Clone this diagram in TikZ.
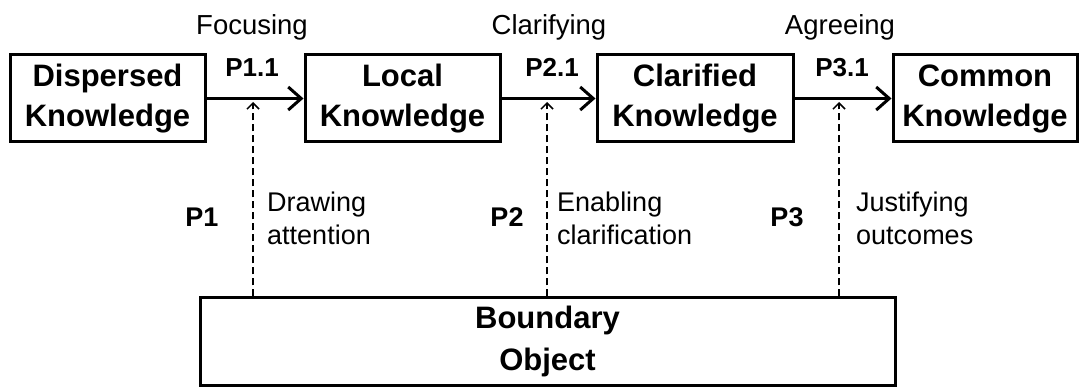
\documentclass[tikz,border=0pt]{standalone}
\usepackage{fontspec}
\setmainfont{Liberation Sans}
\usetikzlibrary{arrows.meta}
\begin{document}
\begin{tikzpicture}[x=1pt,y=-1pt,
  kbox/.style={draw, line width=3pt, minimum height=87pt, inner sep=0pt, align=center,
    font=\bfseries\fontsize{31}{40}\selectfont},
  flow/.style={line width=3pt, -{Straight Barb[length=13pt,width=23pt,line width=3pt]}},
  support/.style={line width=2pt, dash pattern=on 7pt off 4pt, -{Straight Barb[length=6pt,width=12pt,line width=1.5pt]}},
  plabel/.style={font=\bfseries\fontsize{26}{30}\selectfont, inner sep=0pt, anchor=base},
  toplabel/.style={font=\fontsize{27.5}{32}\selectfont, inner sep=0pt, anchor=base},
  plow/.style={font=\bfseries\fontsize{27}{30}\selectfont, inner sep=0pt, anchor=base},
  desc/.style={font=\fontsize{27}{33}\selectfont, align=left, anchor=north west, inner sep=0pt},
  bobj/.style={draw, line width=3pt, minimum width=695pt, minimum height=87pt, inner sep=0pt, align=center,
    font=\bfseries\fontsize{31}{42}\selectfont}
]
\useasboundingbox (0,0) rectangle (1079,387);

\node[kbox, minimum width=195pt] (d) at (107.5,98.5) {Dispersed\\Knowledge};
\node[kbox, minimum width=195pt] (l) at (402.5,98.5) {Local\\Knowledge};
\node[kbox, minimum width=196pt] (c) at (695,98.5) {Clarified\\Knowledge};
\node[kbox, minimum width=184pt] (k) at (985,98.5) {Common\\Knowledge};

\node[bobj] (b) at (547.5,341.5) {Boundary\\Object};

\draw[flow] (d) -- (l);
\draw[flow] (l) -- (c);
\draw[flow] (c) -- (k);

\coordinate (t1) at (253,102);
\coordinate (t2) at (547,102);
\coordinate (t3) at (839,102);
\draw[support] (b.north -| t1) -- (t1);
\draw[support] (b.north -| t2) -- (t2);
\draw[support] (b.north -| t3) -- (t3);

\node[toplabel] (f1) at (252,35) {Focusing};
\node[toplabel] (f2) at (549,35) {Clarifying};
\node[toplabel] (f3) at (840,35) {Agreeing};

\node[plabel] (p11) at (252,77) {P1.1};
\node[plabel] (p21) at (552,77) {P2.1};
\node[plabel] (p31) at (842,77) {P3.1};

\node[plow] (p1) at (202,227) {P1};
\node[plow] (p2) at (507,227) {P2};
\node[plow] (p3) at (787,227) {P3};

\node[desc] (e1) at (267,191.5) {Drawing\\attention};
\node[desc] (e2) at (557,191.5) {Enabling\\clarification};
\node[desc] (e3) at (856,191.5) {Justifying\\outcomes};
\end{tikzpicture}
\end{document}
